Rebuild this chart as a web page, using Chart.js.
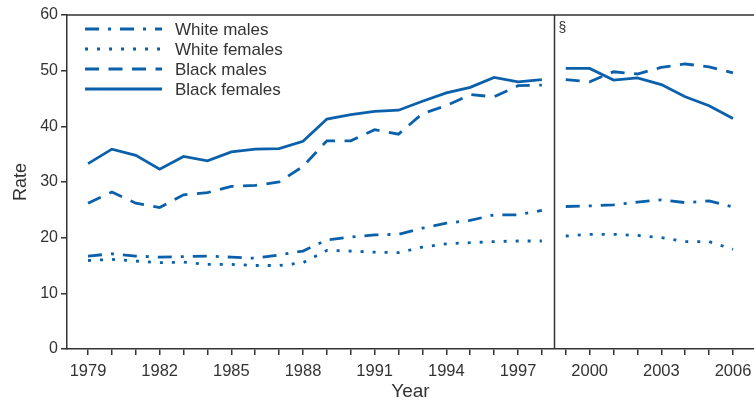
<!DOCTYPE html>
<html>
<head>
<meta charset="utf-8">
<script src="https://cdn.jsdelivr.net/npm/chart.js@4/dist/chart.umd.min.js"></script>
<style>
  html, body { margin: 0; padding: 0; background: #fff; }
  #wrap { width: 754px; height: 403px; position: relative; }
</style>
</head>
<body>
<div id="wrap"><canvas id="c"></canvas></div>
<script>
// ── data ──
var years = [1979, 1980, 1981, 1982, 1983, 1984, 1985, 1986, 1987, 1988, 1989, 1990, 1991, 1992,
  1993, 1994, 1995, 1996, 1997, 1998, 1999, 2000, 2001, 2002, 2003, 2004, 2005, 2006];
var whiteMales = [16.7, 17.1, 16.7, 16.5, 16.6, 16.7, 16.5, 16.3, 16.9, 17.6, 19.6, 20.1, 20.5, 20.6,
  21.7, 22.6, 23.1, 24.1, 24.1, 24.9, 25.6, 25.7, 25.9, 26.4, 26.8, 26.3, 26.6, 25.5];
var whiteFemales = [15.9, 16.1, 15.8, 15.5, 15.6, 15.2, 15.2, 15.0, 15.0, 15.5, 17.7, 17.6, 17.4, 17.3,
  18.3, 18.9, 19.1, 19.3, 19.4, 19.4, 20.3, 20.6, 20.6, 20.4, 20.0, 19.3, 19.3, 17.9];
var blackMales = [26.2, 28.2, 26.2, 25.4, 27.7, 28.1, 29.2, 29.4, 30.0, 32.8, 37.4, 37.4, 39.4, 38.6,
  42.3, 43.7, 45.7, 45.3, 47.3, 47.4, 48.4, 48.0, 49.8, 49.4, 50.6, 51.2, 50.7, 49.6];
var blackFemales = [33.3, 35.9, 34.8, 32.3, 34.6, 33.8, 35.4, 35.9, 36.0, 37.3, 41.3, 42.1, 42.7, 42.9,
  44.5, 46.0, 47.0, 48.8, 48.0, 48.4, 50.4, 50.4, 48.3, 48.7, 47.5, 45.3, 43.7, 41.4];
var yTicks = [0, 10, 20, 30, 40, 50, 60];
var breakYear = 1998.5;   // coding change between 1998 and 1999
var blue = '#0a60aa';
var ink = '#333';

// ── build points, null at the break so the lines don't join ──
function pts(vals) {
  var out = [];
  years.forEach(function(y, i) {
    if (y > breakYear && years[i - 1] < breakYear) out.push({ x: breakYear, y: null });
    out.push({ x: y, y: vals[i] });
  });
  return out;
}

function ds(label, vals, dash) {
  return {
    label: label, data: pts(vals), borderColor: blue, borderWidth: 2.8,
    borderDash: dash, borderCapStyle: 'butt', pointRadius: 0, fill: false,
    tension: 0, spanGaps: false
  };
}

var datasets = [
  ds('White males', whiteMales, [14, 9, 3, 9]),
  ds('White females', whiteFemales, [3, 9]),
  ds('Black males', blackMales, [14, 9.5]),
  ds('Black females', blackFemales, [])
];

// ── break line, § mark, top frame, legend ──
var extras = {
  id: 'extras',
  afterDatasetsDraw: function(chart) {
    var ctx = chart.ctx, a = chart.chartArea, xs = chart.scales.x;
    ctx.save();
    ctx.strokeStyle = ink;
    ctx.lineWidth = 1.5;
    ctx.beginPath();
    ctx.moveTo(a.left, a.top); ctx.lineTo(a.right, a.top);
    var bx = Math.round(xs.getPixelForValue(breakYear)) + 0.5;
    ctx.moveTo(bx, a.top); ctx.lineTo(bx, a.bottom);
    ctx.stroke();

    ctx.fillStyle = ink;
    ctx.font = '14px "Liberation Sans", Arial, sans-serif';
    ctx.textBaseline = 'middle';
    ctx.fillText('§', bx + 4, a.top + 13);

    // legend
    var x0 = 85, x1 = 162, tx = 175, y0 = 29, dy = 20;
    ctx.font = '17px "Liberation Sans", Arial, sans-serif';
    chart.data.datasets.forEach(function(d, i) {
      var y = y0 + i * dy;
      ctx.strokeStyle = d.borderColor;
      ctx.lineWidth = d.borderWidth;
      ctx.setLineDash(d.borderDash);
      ctx.beginPath(); ctx.moveTo(x0, y); ctx.lineTo(x1, y); ctx.stroke();
      ctx.setLineDash([]);
      ctx.fillStyle = ink;
      ctx.fillText(d.label, tx, y + 1);
    });
    ctx.restore();
  }
};

Chart.defaults.font.family = '"Liberation Sans", Arial, sans-serif';
Chart.defaults.color = ink;

new Chart(document.getElementById('c'), {
  type: 'line',
  data: { datasets: datasets },
  options: {
    responsive: true, maintainAspectRatio: false, animation: false,
    layout: { padding: { top: 15, right: 0, left: 10, bottom: 0 } },
    plugins: { legend: { display: false }, tooltip: { enabled: false } },
    scales: {
      x: {
        type: 'linear', min: 1978.12, max: 2006.88,
        afterBuildTicks: function(s) { s.ticks = years.map(function(v) { return { value: v }; }); },
        afterFit: function(s) { s.height = 54; s.paddingLeft = 0; s.paddingRight = 0; },
        ticks: {
          autoSkip: false, maxRotation: 0, padding: 7, color: ink,
          font: { size: 16.5 },
          callback: function(v) { return (v - 1979) % 3 === 0 ? String(v) : ''; }
        },
        grid: { drawOnChartArea: false, drawTicks: true, tickLength: 6, color: ink, lineWidth: 1.5 },
        border: { color: ink, width: 1.5 },
        title: { display: true, text: 'Year', font: { size: 19 }, color: ink, padding: { top: 0, bottom: 0 } }
      },
      y: {
        min: 0, max: 60,
        afterBuildTicks: function(s) { s.ticks = yTicks.map(function(v) { return { value: v }; }); },
        afterFit: function(s) { s.width = 57; },
        ticks: { color: ink, font: { size: 16 }, padding: 3 },
        grid: { drawOnChartArea: false, drawTicks: true, tickLength: 6, color: ink, lineWidth: 1.5 },
        border: { color: ink, width: 1.5 },
        title: { display: true, text: 'Rate', font: { size: 18 }, color: ink, padding: { top: 0, bottom: 4 } }
      }
    }
  },
  plugins: [extras]
});
</script>
</body>
</html>
